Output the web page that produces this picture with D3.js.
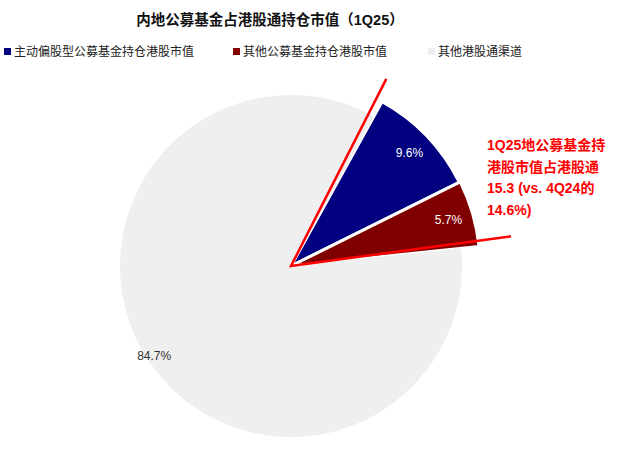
<!DOCTYPE html><html><head><meta charset="utf-8"><script src="https://cdn.jsdelivr.net/npm/d3@7"></script>
<style>body{margin:0;background:#fff}text{font-family:"Liberation Sans","Noto Sans CJK SC",sans-serif}</style></head><body>
<svg id="c" width="628" height="460"></svg>
<script>
const categories=["主动偏股型公募基金持仓港股市值","其他公募基金持仓港股市值","其他港股通渠道"];
const values=[9.6,5.7,84.7];
const colors=["#000080","#800000","#efefef"];
const labels=["9.6%","5.7%","84.7%"];
const note=["1Q25地公募基金持","港股市值占港股通","15.3 (vs. 4Q24的","14.6%)"];
const svg=d3.select("#c");
svg.append("text").attr("x",270).attr("y",25).attr("text-anchor","middle").attr("font-size",14.5).attr("font-weight","bold").attr("fill","#111").text("内地公募基金占港股通持仓市值（1Q25）");
const lx=[4,233,428];
categories.forEach((c,i)=>{const g=svg.append("g").attr("transform",`translate(${lx[i]},46)`);
g.append("rect").attr("width",7).attr("height",7).attr("y",2).attr("fill",colors[i]);
g.append("text").attr("x",10).attr("y",10).attr("font-size",12).attr("fill","#222").text(c);});
const cx=291,cy=266,start=29*Math.PI/180;
const pie=d3.pie().sort(null).startAngle(start).endAngle(start+2*Math.PI)(values);
const g=svg.append("g").attr("transform",`translate(${cx},${cy})`);
const rad=[188,189,171];
pie.forEach((p,i)=>{const a=d3.arc().innerRadius(0).outerRadius(rad[i]);
g.append("path").attr("d",a(p)).attr("fill",colors[i]).attr("stroke","#fff").attr("stroke-width",i<2?3:0);});
pie.forEach((p,i)=>{const m=(p.startAngle+p.endAngle)/2;const r=164;
let x=Math.sin(m)*r,y=-Math.cos(m)*r;
g.append("text").attr("x",x).attr("y",y+4).attr("text-anchor","middle").attr("font-size",12).attr("fill",i<2?"#fff":"#333").text(labels[i]);});
const a1=27*Math.PI/180,a2=82.3*Math.PI/180;
g.append("path").attr("d",`M${Math.sin(a1)*210},${-Math.cos(a1)*210}L0,0L${Math.sin(a2)*222},${-Math.cos(a2)*222}`).attr("fill","none").attr("stroke","#ff0000").attr("stroke-width",2.5);
note.forEach((t,i)=>svg.append("text").attr("x",487).attr("y",150+i*21.5).attr("font-size",14).attr("font-weight","bold").attr("fill","#ff0000").text(t));
</script></body></html>
